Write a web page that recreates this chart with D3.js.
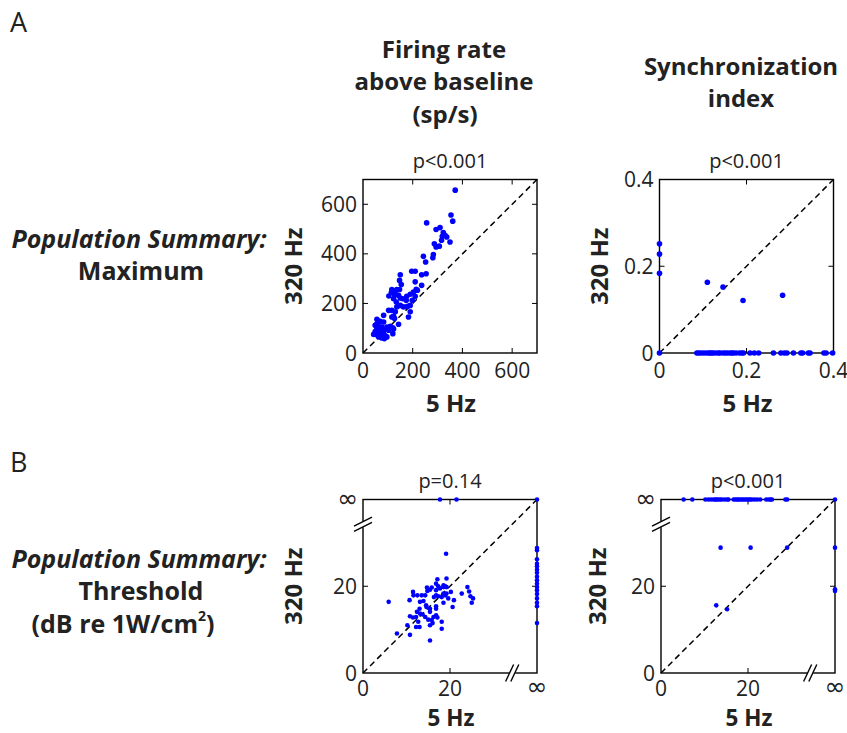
<!DOCTYPE html>
<html>
<head>
<meta charset="utf-8">
<script src="https://cdn.jsdelivr.net/npm/d3@7"></script>
<style>
  html, body { margin: 0; padding: 0; background: #fff; }
  svg { display: block; font-family: "Open Sans", "DejaVu Sans", sans-serif; }
</style>
</head>
<body>
<svg id="fig" width="847" height="733"></svg>
<script>
// ---- Population summary data (5 Hz vs 320 Hz) ----
// Maximum firing rate above baseline (sp/s)
const rate5 = [371,354,361,256,310,294,323,330,337,319,316,350,287,294,307,243,283,281,252,196,210,254,236,150,147,154,210,236,116,130,136,147,214,219,203,114,127,104,123,143,150,160,174,190,198,210,176,134,150,163,179,136,190,116,103,130,123,116,83,190,183,127,56,69,83,143,56,49,63,76,96,110,120,56,69,83,49,63,83,103,43,56,69,90,120,123,86,76,63,53,96];
const rate320 = [657,557,532,525,506,498,486,475,468,471,455,448,441,428,431,390,397,384,367,330,330,320,316,316,293,276,287,273,256,249,256,256,257,253,246,244,233,230,219,233,222,219,213,237,213,229,229,206,192,186,188,186,192,172,172,166,148,145,152,166,145,139,136,128,125,116,118,112,108,105,105,108,102,98,94,94,87,83,78,92,75,73,70,69,78,97,58,61,65,82,65];

// Maximum synchronization index
const sync5 = [0,0,0,0,0.110,0.146,0.192,0.283,
  0.086,0.090,0.095,0.101,0.107,0.113,0.116,0.120,0.124,0.130,0.136,0.139,0.146,0.151,0.156,0.162,0.166,0.170,0.176,0.184,0.189,0.193,0.208,0.218,0.228,0.262,0.279,0.287,0.293,0.308,0.325,0.329,0.342,0.346,0.378,0.383,0.398];
const sync320 = [0.252,0.228,0.184,0,0.163,0.152,0.121,0.133,
  0,0,0,0,0,0,0,0,0,0,0,0,0,0,0,0,0,0,0,0,0,0,0,0,0,0,0,0,0,0,0,0,0,0,0,0,0];

// Threshold (dB re 1 W/cm^2), firing-rate criterion; Infinity = no threshold
const thrRate5 = [17.7,21.5,Infinity,
  Infinity,Infinity,Infinity,Infinity,Infinity,Infinity,Infinity,Infinity,Infinity,Infinity,Infinity,Infinity,Infinity,Infinity,Infinity,Infinity,Infinity,
  5.9,19.1,17.1,19.2,18.5,11.5,11.6,10.7,12.5,13.5,14.3,14.8,15.4,15.8,14.7,16.8,17.3,17.7,18.5,18.9,19.2,16.8,16.3,17.3,18.1,18.9,19.2,19.6,20.9,18.5,20.6,22.7,24.0,24.4,24.7,25.3,25.0,13.1,13.9,14.5,13.0,12.4,13.1,13.7,14.6,15.4,16.8,16.8,15.4,10.8,11.5,12.2,12.7,14.3,15.0,15.8,16.2,16.8,17.1,15.4,16.0,12.2,13.0,10.2,18.1,18.1,7.8,10.8,15.4,16.8,18.5,20.2];
const thrRate320 = [Infinity,Infinity,Infinity,
  28.8,28.3,26.2,25.2,24.6,23.8,23.1,22.2,21.4,20.6,19.8,19.1,18.2,17.2,16.2,15.4,11.5,
  16.4,27.5,21.6,21.8,20.2,18.7,17.9,16.8,17.9,17.9,17.9,18.9,19.2,19.7,19.7,20.6,20.0,19.5,19.8,20.0,19.8,17.9,17.5,17.7,17.5,17.9,18.3,17.2,16.8,16.2,15.2,18.3,19.8,18.8,17.7,17.2,16.2,16.4,16.6,15.6,14.8,14.1,13.7,13.5,15.2,14.8,15.4,14.8,14.1,13.1,12.8,12.9,11.8,12.9,12.3,12.2,12.9,13.3,12.8,11.0,11.5,10.6,10.6,11.0,11.8,10.2,9.1,8.8,7.5,19.1,18.3,18.7];

// Threshold, synchronization criterion
const thrSync5 = [5.2,7.2,10.2,10.9,11.5,12.1,12.5,12.8,13.2,13.6,14.0,14.6,15.2,15.5,16.7,17.1,17.5,17.8,18.2,18.6,19.0,19.4,19.8,20.2,20.5,20.9,21.5,22.1,22.8,24.2,24.8,25.2,25.5,28.6,29.0,Infinity,
  13.7,20.6,29.0,Infinity,Infinity,Infinity,12.7,15.2];
const thrSync320 = [Infinity,Infinity,Infinity,Infinity,Infinity,Infinity,Infinity,Infinity,Infinity,Infinity,Infinity,Infinity,Infinity,Infinity,Infinity,Infinity,Infinity,Infinity,Infinity,Infinity,Infinity,Infinity,Infinity,Infinity,Infinity,Infinity,Infinity,Infinity,Infinity,Infinity,Infinity,Infinity,Infinity,Infinity,Infinity,Infinity,
  28.9,28.9,28.9,28.9,19.3,18.9,15.6,14.7];

// Tick values
const rateTicks = [0, 200, 400, 600];
const syncTicks = [0, 0.2, 0.4];
const thrTicks = [0, 20];

const svg = d3.select("#fig");
const BLUE = "#0000ff";
const TICK_FONT = 21;

function drawPanel(cfg) {
  const g = svg.append("g");
  const sx = d3.scaleLinear().domain(cfg.domain).range([cfg.x0, cfg.x0 + cfg.w]);
  const sy = d3.scaleLinear().domain(cfg.domain).range([cfg.y0 + cfg.h, cfg.y0]);
  const top = cfg.domain[1];
  const px = v => sx(isFinite(v) ? v : top);
  const py = v => sy(isFinite(v) ? v : top);
  const fmt = cfg.fmt || (d => String(d));

  // diagonal identity line
  g.append("line")
    .attr("x1", sx(0)).attr("y1", sy(0))
    .attr("x2", sx(top)).attr("y2", sy(top))
    .attr("stroke", "#000").attr("stroke-width", 1.5)
    .attr("stroke-dasharray", "6,4");

  // box
  g.append("rect")
    .attr("x", cfg.x0).attr("y", cfg.y0)
    .attr("width", cfg.w).attr("height", cfg.h)
    .attr("fill", "none").attr("stroke", "#000").attr("stroke-width", 1.4);

  // inward ticks on all four sides
  const tl = 5;
  cfg.ticks.forEach(t => {
    if (t === 0 || t === top) return;
    g.append("line").attr("x1", sx(t)).attr("x2", sx(t))
      .attr("y1", cfg.y0 + cfg.h).attr("y2", cfg.y0 + cfg.h - tl)
      .attr("stroke", "#000").attr("stroke-width", 1);
    g.append("line").attr("x1", sx(t)).attr("x2", sx(t))
      .attr("y1", cfg.y0).attr("y2", cfg.y0 + tl)
      .attr("stroke", "#000").attr("stroke-width", 1);
    g.append("line").attr("y1", sy(t)).attr("y2", sy(t))
      .attr("x1", cfg.x0).attr("x2", cfg.x0 + tl)
      .attr("stroke", "#000").attr("stroke-width", 1);
    g.append("line").attr("y1", sy(t)).attr("y2", sy(t))
      .attr("x1", cfg.x0 + cfg.w).attr("x2", cfg.x0 + cfg.w - tl)
      .attr("stroke", "#000").attr("stroke-width", 1);
  });

  // numeric tick labels
  const xl = cfg.ticks.map(t => ({ v: t, s: fmt(t) }));
  g.selectAll(null).data(xl).enter().append("text")
    .attr("x", d => sx(d.v)).attr("y", cfg.y0 + cfg.h + cfg.tickOff)
    .attr("text-anchor", "middle").attr("font-size", TICK_FONT).attr("fill", "#222")
    .text(d => d.s);
  g.selectAll(null).data(xl).enter().append("text")
    .attr("x", cfg.x0 - 6).attr("y", d => sy(d.v) + 7.5)
    .attr("text-anchor", "end").attr("font-size", TICK_FONT).attr("fill", "#222")
    .text(d => d.s);

  // infinity labels and axis breaks before the infinity position
  if (cfg.infinite) {
    g.append("text").attr("x", sx(top)).attr("y", cfg.y0 + cfg.h + cfg.tickOff - 1)
      .attr("text-anchor", "middle").attr("font-family", "DejaVu Sans")
      .attr("font-size", 25).attr("fill", "#222").text("\u221E");
    g.append("text").attr("x", cfg.x0 - 5).attr("y", sy(top) + 7)
      .attr("text-anchor", "end").attr("font-family", "DejaVu Sans")
      .attr("font-size", 25).attr("fill", "#222").text("\u221E");

    const yb = sy(cfg.breakAt), xb = sx(cfg.breakAt);
    const yAx = cfg.y0 + cfg.h;
    g.append("line").attr("x1", cfg.x0).attr("x2", cfg.x0)
      .attr("y1", yb - 3).attr("y2", yb + 3)
      .attr("stroke", "#fff").attr("stroke-width", 3);
    g.append("line").attr("y1", yAx).attr("y2", yAx)
      .attr("x1", xb - 3).attr("x2", xb + 3)
      .attr("stroke", "#fff").attr("stroke-width", 3);
    [-2.6, 2.6].forEach(o => {
      g.append("line")
        .attr("x1", cfg.x0 - 9).attr("y1", yb + o + 4.5)
        .attr("x2", cfg.x0 + 9).attr("y2", yb + o - 4.5)
        .attr("stroke", "#000").attr("stroke-width", 1.4);
      g.append("line")
        .attr("x1", xb + o - 4).attr("y1", yAx + 8.5)
        .attr("x2", xb + o + 4).attr("y2", yAx - 8.5)
        .attr("stroke", "#000").attr("stroke-width", 1.4);
    });
  }

  // scatter points
  g.selectAll(null).data(d3.range(cfg.xs.length)).enter().append("circle")
    .attr("cx", i => px(cfg.xs[i])).attr("cy", i => py(cfg.ys[i]))
    .attr("r", cfg.r).attr("fill", BLUE);

  // title (p-value)
  g.append("text").attr("x", cfg.x0 + cfg.w / 2).attr("y", cfg.y0 - 12)
    .attr("text-anchor", "middle").attr("font-size", 20).attr("fill", "#222")
    .text(cfg.title);

  // axis labels
  g.append("text").attr("x", cfg.x0 + cfg.w / 2 + 1).attr("y", cfg.y0 + cfg.h + cfg.xlOff)
    .attr("text-anchor", "middle").attr("font-size", cfg.xlSize).attr("font-weight", "bold")
    .attr("fill", "#222").text("5 Hz");
  g.append("text")
    .attr("transform", `translate(${cfg.x0 - cfg.ylOff},${cfg.y0 + cfg.h / 2}) rotate(-90)`)
    .attr("text-anchor", "middle").attr("font-size", 24).attr("font-weight", "bold")
    .attr("fill", "#222").text("320 Hz");
}

const W = 174, H = 173.5;
drawPanel({ x0: 363, y0: 179.5, w: W, h: H, domain: [0, 700], ticks: rateTicks,
  xs: rate5, ys: rate320, r: 2.8, title: "p<0.001", ylOff: 61,
  tickOff: 25, xlOff: 59, xlSize: 24 });
drawPanel({ x0: 659.5, y0: 179.5, w: W, h: H, domain: [0, 0.4], ticks: syncTicks,
  fmt: d => d === 0 ? "0" : d.toFixed(1), xs: sync5, ys: sync320, r: 2.8,
  title: "p<0.001", ylOff: 52, tickOff: 25, xlOff: 59, xlSize: 24 });
drawPanel({ x0: 363, y0: 499.5, w: W, h: H, domain: [0, 40], ticks: thrTicks,
  infinite: true, breakAt: 34.3, xs: thrRate5, ys: thrRate320, r: 2.3,
  title: "p=0.14", ylOff: 61, tickOff: 22.5, xlOff: 53, xlSize: 22.5 });
drawPanel({ x0: 661, y0: 499.5, w: W, h: H, domain: [0, 40], ticks: thrTicks,
  infinite: true, breakAt: 34.3, xs: thrSync5, ys: thrSync320, r: 2.3,
  title: "p<0.001", ylOff: 55, tickOff: 22.5, xlOff: 53, xlSize: 22.5 });

// ---- headings and row labels ----
function label(x, y, txt, opts = {}) {
  return svg.append("text").attr("x", x).attr("y", y)
    .attr("text-anchor", opts.anchor || "middle")
    .attr("font-size", opts.size || 24)
    .attr("font-weight", opts.weight || "bold")
    .attr("font-style", opts.style || "normal")
    .attr("fill", "#222").text(txt);
}

label(10, 32, "A", { anchor: "start", size: 27, weight: "normal" });
label(10, 472, "B", { anchor: "start", size: 27, weight: "normal" });

label(444, 58, "Firing rate");
label(444, 90, "above baseline");
label(445, 123, "(sp/s)");
label(741, 75, "Synchronization");
label(741, 107, "index");

label(139, 248, "Population Summary:", { style: "italic", size: 25 });
label(141, 280, "Maximum", { size: 25 });
label(139, 568, "Population Summary:", { style: "italic", size: 25 });
label(141, 600, "Threshold", { size: 25 });

const unit = label(123, 633, "(dB re 1W/cm", { size: 25 });
unit.append("tspan").attr("font-size", 14).attr("dy", -12).text("2");
unit.append("tspan").attr("dy", 12).text(")");
</script>
</body>
</html>
